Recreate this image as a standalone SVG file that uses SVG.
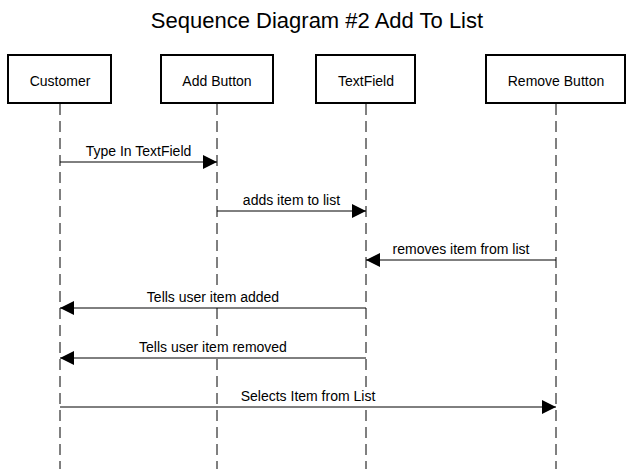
<svg xmlns="http://www.w3.org/2000/svg" width="634" height="469" viewBox="0 0 634 469">
<style>
text{font-family:"Liberation Sans",Arial,sans-serif;fill:#000}
.box{fill:#fff;stroke:#000;stroke-width:2}
.life{stroke:#000;stroke-width:1;stroke-dasharray:11,6;fill:none}
.msg{stroke:#000;stroke-width:1;fill:none;marker-end:url(#ah)}
.lbl{font-size:14px;text-anchor:middle}
.bg{fill:#fff}
</style>
<defs>
<marker id="ah" viewBox="0 0 14 14" refX="14" refY="7" markerWidth="14" markerHeight="14" markerUnits="userSpaceOnUse" orient="auto">
<path d="M0,0 L14,7 L0,14 Z" fill="#000"/>
</marker>
</defs>
<rect width="634" height="469" fill="#fff"/>
<text x="317" y="28" font-size="22" text-anchor="middle">Sequence Diagram #2 Add To List</text>
<g id="lifelines">
<line class="life" x1="60" y1="104" x2="60" y2="469"/>
<line class="life" x1="217" y1="104" x2="217" y2="469"/>
<line class="life" x1="366" y1="104" x2="366" y2="469"/>
<line class="life" x1="556" y1="104" x2="556" y2="469"/>
</g>
<g id="customer"><rect class="box" x="8" y="55" width="103" height="48"/><text class="lbl" x="60" y="86">Customer</text></g>
<g id="addButton"><rect class="box" x="161" y="55" width="112" height="48"/><text class="lbl" x="217" y="86">Add Button</text></g>
<g id="textField"><rect class="box" x="316" y="55" width="99" height="48"/><text class="lbl" x="366" y="86">TextField</text></g>
<g id="removeButton"><rect class="box" x="486" y="55" width="139" height="48"/><text class="lbl" x="556" y="86">Remove Button</text></g>
<g id="connectors">
<line class="msg" x1="60" y1="162" x2="217" y2="162"/>
<text class="lbl" x="138.5" y="155.5">Type In TextField</text>
<line class="msg" x1="217" y1="211" x2="366" y2="211"/>
<text class="lbl" x="291.5" y="204.5">adds item to list</text>
<line class="msg" x1="556" y1="260" x2="366" y2="260"/>
<text class="lbl" x="461" y="253.5">removes item from list</text>
<line class="msg" x1="366" y1="308" x2="60" y2="308"/>
<rect class="bg" x="145" y="289" width="136" height="16"/>
<text class="lbl" x="213" y="301.5">Tells user item added</text>
<line class="msg" x1="366" y1="358" x2="60" y2="358"/>
<rect class="bg" x="137" y="339" width="152" height="16"/>
<text class="lbl" x="213" y="351.5">Tells user item removed</text>
<line class="msg" x1="60" y1="407" x2="556" y2="407"/>
<rect class="bg" x="237" y="388" width="142" height="16"/>
<text class="lbl" x="308" y="400.5">Selects Item from List</text>
</g>
</svg>
